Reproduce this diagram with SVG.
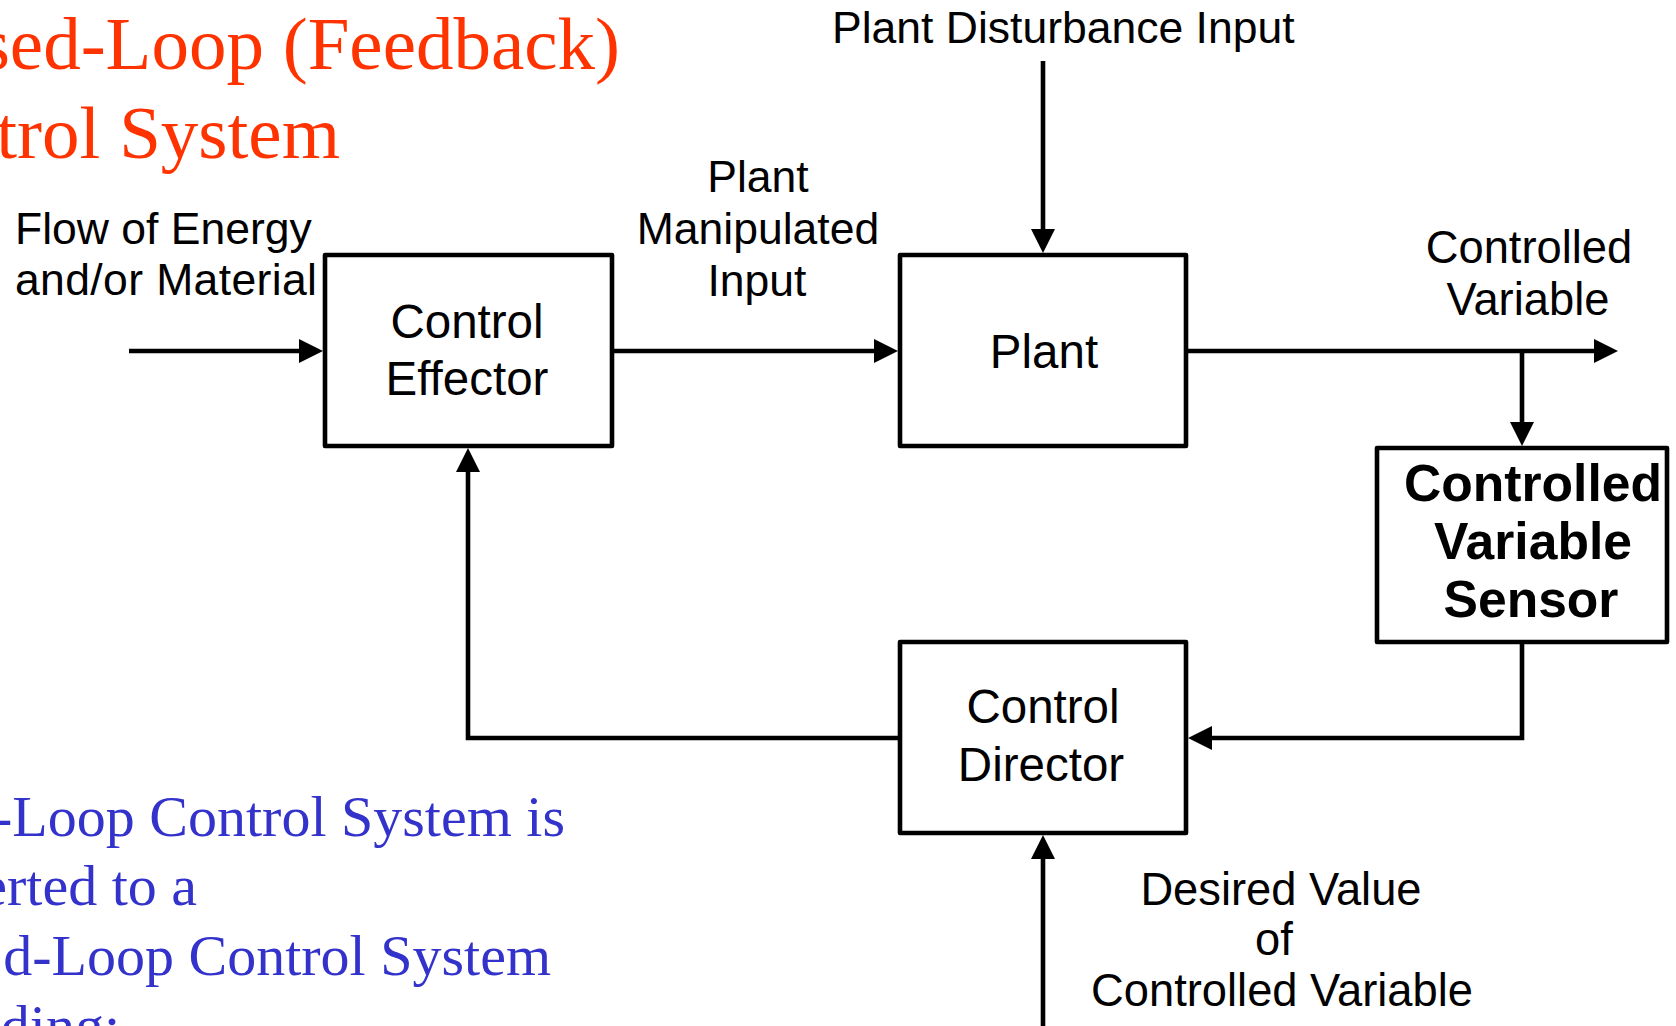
<svg xmlns="http://www.w3.org/2000/svg" width="1676" height="1026" viewBox="0 0 1676 1026">
  <style>
    .box { fill: #ffffff; stroke: #000000; stroke-width: 4.6; stroke-linejoin: round; }
    .wire { fill: none; stroke: #000000; stroke-width: 4.6; stroke-linejoin: miter; stroke-linecap: butt; }
    .lbl { font-family: "Liberation Sans", Arial, sans-serif; font-size: 44.5px; fill: #000000; }
    .lbl2 { font-family: "Liberation Sans", Arial, sans-serif; font-size: 45.3px; fill: #000000; text-anchor: middle; }
    .node { font-family: "Liberation Sans", Arial, sans-serif; font-size: 47.5px; fill: #000000; text-anchor: middle; }
    .nodeb { font-family: "Liberation Sans", Arial, sans-serif; font-size: 51.6px; font-weight: bold; fill: #000000; text-anchor: middle; }
    .title { font-family: "Liberation Serif", "Times New Roman", serif; font-size: 75px; fill: #ff3300; }
    .note { font-family: "Liberation Serif", "Times New Roman", serif; font-size: 58px; fill: #3333cc; }
    .mid { text-anchor: middle; }
  </style>
  <defs>
    <marker id="arrow" markerUnits="userSpaceOnUse" markerWidth="26" markerHeight="26" refX="14" refY="12" orient="auto">
      <path d="M0,0 L24,12 L0,24 Z" fill="#000000"/>
    </marker>
  </defs>

  <rect width="1676" height="1026" fill="#ffffff"/>

  <!-- heading, partly off the left edge -->
  <g id="heading">
    <text class="title" x="620" y="69" text-anchor="end">sed-Loop (Feedback)</text>
    <text class="title" x="340" y="158" text-anchor="end">trol System</text>
  </g>

  <!-- notes, partly off the left and bottom edges -->
  <g id="notes">
    <text class="note" x="565" y="836" text-anchor="end">-Loop Control System is</text>
    <text class="note" x="197" y="905" text-anchor="end">erted to a</text>
    <text class="note" x="551" y="975" text-anchor="end">d-Loop Control System</text>
    <text class="note" x="120" y="1045" text-anchor="end">ding:</text>
  </g>

  <!-- signal lines -->
  <g id="connectors">
    <path class="wire" d="M129,351 H313" marker-end="url(#arrow)"/>
    <path class="wire" d="M611,351 H888" marker-end="url(#arrow)"/>
    <path class="wire" d="M1043,61 V243" marker-end="url(#arrow)"/>
    <path class="wire" d="M1186,351 H1608" marker-end="url(#arrow)"/>
    <path class="wire" d="M1522,351 V436" marker-end="url(#arrow)"/>
    <path class="wire" d="M1522,641 V738 H1198" marker-end="url(#arrow)"/>
    <path class="wire" d="M900,738 H468 V458" marker-end="url(#arrow)"/>
    <path class="wire" d="M1043,1030 V845" marker-end="url(#arrow)"/>
  </g>

  <!-- signal labels -->
  <g id="labels">
    <text class="lbl" x="832" y="43">Plant Disturbance Input</text>
    <text class="lbl" x="15" y="244">Flow of Energy</text>
    <text class="lbl" x="15" y="295" textLength="302" lengthAdjust="spacing">and/or Material</text>
    <text class="lbl mid" x="758" y="192">Plant</text>
    <text class="lbl mid" x="758" y="244">Manipulated</text>
    <text class="lbl mid" x="757" y="296">Input</text>
    <text class="lbl2" x="1529" y="263">Controlled</text>
    <text class="lbl2" x="1528" y="315">Variable</text>
    <text class="lbl2" x="1281" y="905">Desired Value</text>
    <text class="lbl2" x="1274" y="955">of</text>
    <text class="lbl2" x="1282" y="1006">Controlled Variable</text>
  </g>

  <g id="control-effector">
    <rect class="box" x="325" y="255" width="287" height="191"/>
    <text class="node" x="467" y="338">Control</text>
    <text class="node" x="467" y="395">Effector</text>
  </g>

  <g id="plant">
    <rect class="box" x="900" y="255" width="286" height="191"/>
    <text class="node" x="1044" y="368">Plant</text>
  </g>

  <g id="sensor">
    <rect class="box" x="1377" y="448" width="290" height="194"/>
    <text class="nodeb" x="1533" y="501">Controlled</text>
    <text class="nodeb" x="1533" y="559">Variable</text>
    <text class="nodeb" x="1531" y="617">Sensor</text>
  </g>

  <g id="control-director">
    <rect class="box" x="900" y="642" width="286" height="191"/>
    <text class="node" x="1043" y="723">Control</text>
    <text class="node" x="1041" y="781">Director</text>
  </g>
</svg>
